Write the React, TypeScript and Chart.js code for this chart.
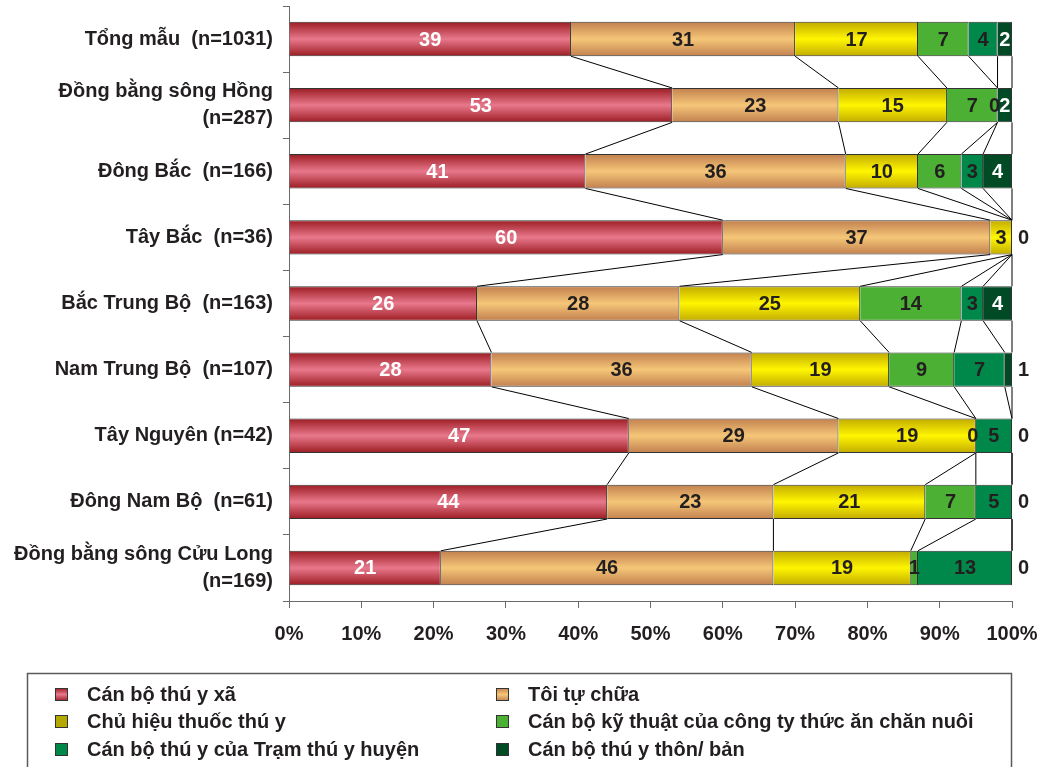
import { useEffect, useRef } from "react";
import { Chart, registerables } from "chart.js";

Chart.register(...registerables);

const FONT = '"Liberation Sans", Arial, sans-serif';
const INK = "#231f20";

const regions: (string | string[])[] = [
  "Tổng mẫu  (n=1031)",
  ["Đồng bằng sông Hồng", "(n=287)"],
  "Đông Bắc  (n=166)",
  "Tây Bắc  (n=36)",
  "Bắc Trung Bộ  (n=163)",
  "Nam Trung Bộ  (n=107)",
  "Tây Nguyên (n=42)",
  "Đông Nam Bộ  (n=61)",
  ["Đồng bằng sông Cửu Long", "(n=169)"],
];

const sourceNames = [
  "Cán bộ thú y xã",
  "Tôi tự chữa",
  "Chủ hiệu thuốc thú y",
  "Cán bộ kỹ thuật của công ty thức ăn chăn nuôi",
  "Cán bộ thú y của Trạm thú y huyện",
  "Cán bộ thú y thôn/ bản",
];

// Share (%) of households using each source of veterinary care, per region
const communeVet = [39, 53, 41, 60, 26, 28, 47, 44, 21];
const selfTreat = [31, 23, 36, 37, 28, 36, 29, 23, 46];
const drugShop = [17, 15, 10, 3, 25, 19, 19, 21, 19];
const feedCompany = [7, 7, 6, 0, 14, 9, 0, 7, 1];
const districtStation = [4, 0, 3, 0, 3, 7, 5, 5, 13];
const villageVet = [2, 2, 4, 0, 4, 1, 0, 0, 0];

const seriesValues = [communeVet, selfTreat, drugShop, feedCompany, districtStation, villageVet];

// [edge colour, centre colour] of each bar's vertical shading
const barShades: [string, string][] = [
  ["#9c1c22", "#e8788c"],
  ["#c2804f", "#f5c678"],
  ["#c2ab00", "#fff600"],
  ["#4cb034", "#4cb034"],
  ["#00884a", "#00884a"],
  ["#004b25", "#004b25"],
];
const legendSwatch = ["#d8566a", "#e8ae72", "#b3a900", "#4cb034", "#00884a", "#004b25"];
const labelColors = ["#ffffff", INK, INK, INK, INK, "#ffffff"];

function shadedFill(edge: string, mid: string) {
  return (c: any) => {
    const chart = c.chart;
    const area = chart.chartArea;
    if (c.type !== "data" || !area || !chart.scales.y) return mid;
    if (edge === mid) return mid;
    const yc = chart.scales.y.getPixelForValue(c.dataIndex);
    const half = ((area.bottom - area.top) / regions.length) * 0.26;
    const g = chart.ctx.createLinearGradient(0, yc - half, 0, yc + half);
    g.addColorStop(0, edge);
    g.addColorStop(0.5, mid);
    g.addColorStop(1, edge);
    return g;
  };
}

// Connector lines between the ends of each segment on neighbouring bars
const seriesLines = {
  id: "seriesLines",
  beforeDatasetsDraw(chart: any) {
    const ctx = chart.ctx;
    ctx.save();
    ctx.strokeStyle = "#000";
    ctx.lineWidth = 1;
    chart.data.datasets.forEach((_: any, d: number) => {
      const bars = chart.getDatasetMeta(d).data;
      for (let i = 0; i < bars.length - 1; i++) {
        const a = bars[i].getProps(["x", "y", "height"], true);
        const b = bars[i + 1].getProps(["x", "y", "height"], true);
        ctx.beginPath();
        ctx.moveTo(a.x, a.y + a.height / 2);
        ctx.lineTo(b.x, b.y - b.height / 2);
        ctx.stroke();
      }
    });
    ctx.restore();
  },
};

const segmentLabels = {
  id: "segmentLabels",
  afterDatasetsDraw(chart: any) {
    const ctx = chart.ctx;
    const sets = chart.data.datasets;
    ctx.save();
    ctx.font = `bold 20px ${FONT}`;
    ctx.textBaseline = "middle";
    for (let i = 0; i < regions.length; i++) {
      for (let d = 0; d < sets.length; d++) {
        const v = sets[d].data[i] as number;
        const el = chart.getDatasetMeta(d).data[i];
        const { x, y, base } = el.getProps(["x", "y", "base"], true);
        const last = d === sets.length - 1;
        if (last && v <= 1) {
          // tiny or empty closing segment: value goes past the bar end
          ctx.textAlign = "left";
          ctx.fillStyle = INK;
          ctx.fillText(String(v), chart.chartArea.right + 6, y + 1);
          continue;
        }
        let cx = (x + base) / 2;
        if (v === 0) {
          let later = false;
          for (let k = d + 1; k < sets.length; k++) if ((sets[k].data[i] as number) > 0) later = true;
          if (!later) continue;
          cx -= 3;
        }
        ctx.textAlign = "center";
        ctx.fillStyle = labelColors[d];
        ctx.fillText(String(v), cx, y + 1);
      }
    }
    ctx.restore();
  },
};

// Boxed two-column key under the plot
const boxedKey = {
  id: "boxedKey",
  afterDraw(chart: any) {
    const ctx = chart.ctx;
    ctx.save();
    ctx.strokeStyle = "#5a5a5a";
    ctx.lineWidth = 1.5;
    ctx.strokeRect(27.5, 673.5, 984, 120);
    ctx.font = `bold 20px ${FONT}`;
    ctx.textBaseline = "middle";
    ctx.textAlign = "left";
    const cols = [55, 496];
    const rows = [694, 721, 749];
    sourceNames.forEach((name, k) => {
      const cx = cols[k % 2];
      const cy = rows[Math.floor(k / 2)];
      if (k < 3) {
        const g = ctx.createLinearGradient(0, cy - 6, 0, cy + 7);
        g.addColorStop(0, barShades[k][0]);
        g.addColorStop(0.5, k === 2 ? legendSwatch[k] : barShades[k][1]);
        g.addColorStop(1, barShades[k][0]);
        ctx.fillStyle = k === 2 ? legendSwatch[k] : g;
      } else {
        ctx.fillStyle = legendSwatch[k];
      }
      ctx.fillRect(cx, cy - 6, 13, 13);
      ctx.strokeStyle = "#333";
      ctx.lineWidth = 1;
      ctx.strokeRect(cx + 0.5, cy - 5.5, 12, 12);
      ctx.fillStyle = INK;
      ctx.fillText(name, cx + 32, cy + 1);
    });
    ctx.restore();
  },
};

export default function App() {
  const ref = useRef<HTMLCanvasElement>(null);

  useEffect(() => {
    if (!ref.current) return;
    const chart = new Chart(ref.current, {
      type: "bar",
      data: {
        labels: regions,
        datasets: seriesValues.map((vals, k) => ({
          label: sourceNames[k],
          data: vals,
          backgroundColor: shadedFill(barShades[k][0], barShades[k][1]),
          borderColor: "#333333",
          borderWidth: 1,
          barPercentage: 0.52,
          categoryPercentage: 1,
        })),
      },
      options: {
        indexAxis: "y",
        animation: false,
        responsive: false,
        layout: { padding: { top: 6, right: 35, bottom: 0, left: 0 } },
        plugins: {
          legend: { display: false },
          tooltip: { enabled: false },
        },
        scales: {
          x: {
            stacked: true,
            min: 0,
            max: 100,
            afterFit: (s: any) => {
              s.height = 166;
              s.paddingLeft = 0;
              s.paddingRight = 0;
            },
            border: { color: "#6b6b6b", width: 1 },
            grid: { drawOnChartArea: false, tickLength: 7, color: "#6b6b6b" },
            ticks: {
              stepSize: 10,
              padding: 14,
              color: INK,
              font: { family: FONT, size: 20, weight: "bold" },
              callback: (v: any) => `${v}%`,
            },
          },
          y: {
            stacked: true,
            afterFit: (s: any) => {
              s.width = 289;
              s.paddingTop = 0;
              s.paddingBottom = 0;
            },
            border: { color: "#6b6b6b", width: 1 },
            grid: { drawOnChartArea: false, tickLength: 6, color: "#6b6b6b", offset: true },
            ticks: {
              padding: 10,
              color: INK,
              font: { family: FONT, size: 20, weight: "bold", lineHeight: 1.35 },
            },
          },
        },
      },
      plugins: [seriesLines, segmentLabels, boxedKey],
    } as any);
    return () => chart.destroy();
  }, []);

  return (
    <div style={{ position: "absolute", left: 0, top: 0, width: 1047, height: 767, background: "#fff" }}>
      <canvas ref={ref} width={1047} height={767} style={{ display: "block" }} />
    </div>
  );
}
